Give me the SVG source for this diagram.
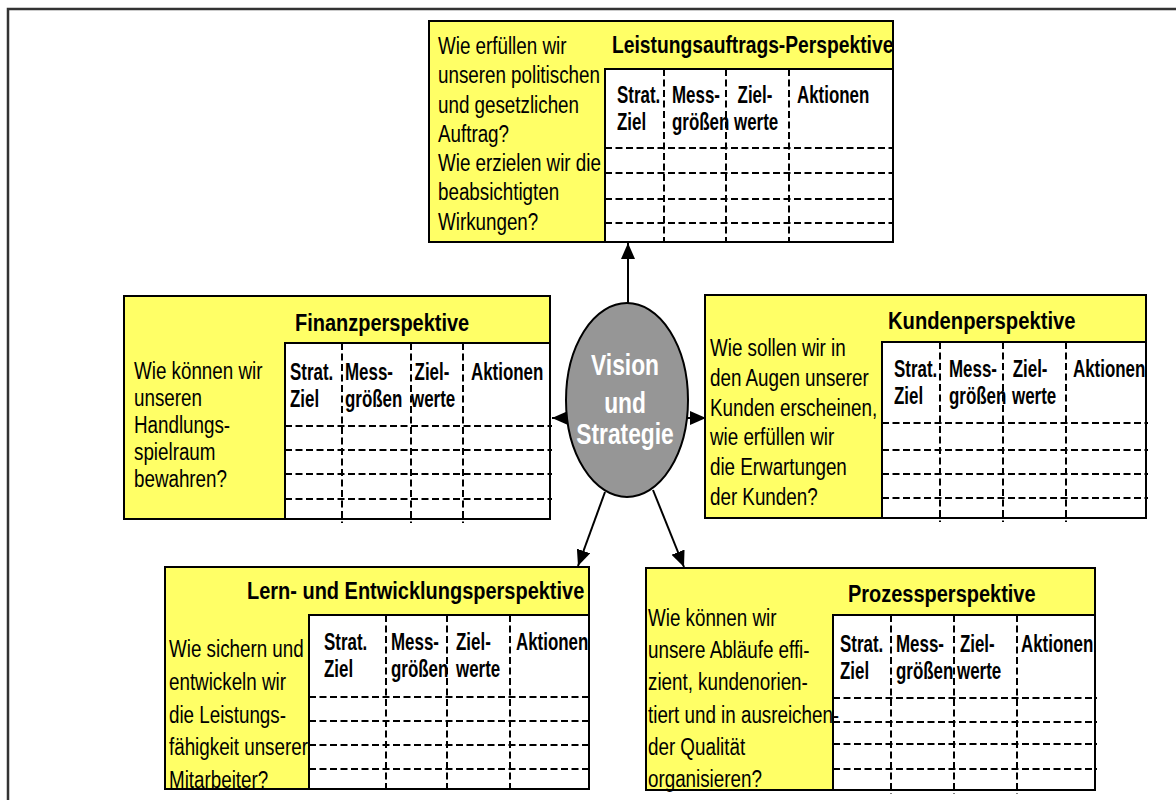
<svg xmlns="http://www.w3.org/2000/svg" width="1176" height="800" viewBox="0 0 1176 800">
  <style>
    .box { fill: #ffff66; stroke: #000; stroke-width: 2; }
    .tbl { fill: #fff; stroke: #000; stroke-width: 2; }
    .dash { stroke: #000; stroke-width: 2; stroke-dasharray: 7 3.5; fill: none; }
    .body { font-family: "Liberation Sans", Arial, sans-serif; font-size: 23.5px; fill: #000; }
    .title { font-family: "Liberation Sans", Arial, sans-serif; font-size: 23.5px; font-weight: bold; fill: #000; }
    .head { font-family: "Liberation Sans", Arial, sans-serif; font-size: 23.5px; font-weight: bold; fill: #000; }
    .vis { font-family: "Liberation Sans", Arial, sans-serif; font-size: 30px; font-weight: bold; fill: #fff; text-anchor: middle; }
    .conn { stroke: #000; stroke-width: 2; fill: none; marker-end: url(#arrow); }
  </style>
  <defs>
    <marker id="arrow" viewBox="0 0 16 14" refX="16" refY="7" markerWidth="16" markerHeight="14" markerUnits="userSpaceOnUse" orient="auto">
      <path d="M0,0 L16,7 L0,14 z" fill="#000"/>
    </marker>
  </defs>

  <rect width="1176" height="800" fill="#fff"/>
  <!-- page frame -->
  <path d="M8,800 L8,9 L1176,9" fill="none" stroke="#333" stroke-width="2.5"/>

  <!-- connectors from the centre -->
  <g id="connectors">
    <path class="conn" d="M628,303 L628,243"/>
    <path class="conn" d="M568,418 L552,418"/>
    <path class="conn" d="M686,418 L706,418"/>
    <path class="conn" d="M605,492 L578,566"/>
    <path class="conn" d="M653,490 L684,567"/>
  </g>

  <!-- Leistungsauftrag -->
  <g id="leistungsauftrag">
    <rect class="box" x="429" y="21" width="464" height="221"/>
    <rect class="tbl" x="605" y="69" width="288" height="173"/>
    <path class="dash" d="M664,69 V242 M726,69 V242 M789,69 V242 M605,148 H893 M605,173 H893 M605,199 H893 M605,223 H893"/>
    <text class="title" transform="translate(612,53) scale(0.82,1)">Leistungsauftrags-Perspektive</text>
    <text class="head" transform="translate(617,103) scale(0.72,1)"><tspan x="0" y="0">Strat.</tspan><tspan x="0" y="27">Ziel</tspan></text>
    <text class="head" transform="translate(672,103) scale(0.72,1)"><tspan x="0" y="0">Mess-</tspan><tspan x="0" y="27">größen</tspan></text>
    <text class="head" transform="translate(734,103) scale(0.72,1)"><tspan x="5" y="0">Ziel-</tspan><tspan x="0" y="27">werte</tspan></text>
    <text class="head" transform="translate(797,103) scale(0.72,1)">Aktionen</text>
    <text class="body" transform="translate(438,54) scale(0.80,1)">
      <tspan x="0" y="0">Wie erfüllen wir</tspan>
      <tspan x="0" y="29.3">unseren politischen</tspan>
      <tspan x="0" y="58.6">und gesetzlichen</tspan>
      <tspan x="0" y="87.9">Auftrag?</tspan>
      <tspan x="0" y="117.2">Wie erzielen wir die</tspan>
      <tspan x="0" y="146.5">beabsichtigten</tspan>
      <tspan x="0" y="175.8">Wirkungen?</tspan>
    </text>
  </g>

  <!-- Finanzen -->
  <g id="finanz">
    <rect class="box" x="124" y="296" width="426" height="223"/>
    <rect class="tbl" x="285" y="343" width="265" height="176"/>
    <path class="dash" d="M342,343 V523 M411,343 V523 M463,343 V523 M285,426 H552 M285,450 H552 M285,474 H552 M285,499 H552"/>
    <text class="title" transform="translate(295,331) scale(0.85,1)">Finanzperspektive</text>
    <text class="head" transform="translate(290,380) scale(0.72,1)"><tspan x="0" y="0">Strat.</tspan><tspan x="0" y="27">Ziel</tspan></text>
    <text class="head" transform="translate(345,380) scale(0.72,1)"><tspan x="0" y="0">Mess-</tspan><tspan x="0" y="27">größen</tspan></text>
    <text class="head" transform="translate(411,380) scale(0.72,1)"><tspan x="5" y="0">Ziel-</tspan><tspan x="0" y="27">werte</tspan></text>
    <text class="head" transform="translate(471,380) scale(0.72,1)">Aktionen</text>
    <text class="body" transform="translate(134,379) scale(0.80,1)">
      <tspan x="0" y="0">Wie können wir</tspan>
      <tspan x="0" y="27">unseren</tspan>
      <tspan x="0" y="54">Handlungs-</tspan>
      <tspan x="0" y="81">spielraum</tspan>
      <tspan x="0" y="108">bewahren?</tspan>
    </text>
  </g>

  <!-- Kunden -->
  <g id="kunden">
    <rect class="box" x="705" y="295" width="441" height="223"/>
    <rect class="tbl" x="882" y="342" width="264" height="176"/>
    <path class="dash" d="M940,342 V522 M1003,342 V522 M1066,342 V522 M882,423 H1148 M882,450 H1148 M882,474 H1148 M882,498 H1148"/>
    <text class="title" transform="translate(888,329) scale(0.86,1)">Kundenperspektive</text>
    <text class="head" transform="translate(894,377) scale(0.72,1)"><tspan x="0" y="0">Strat.</tspan><tspan x="0" y="27">Ziel</tspan></text>
    <text class="head" transform="translate(949,377) scale(0.72,1)"><tspan x="0" y="0">Mess-</tspan><tspan x="0" y="27">größen</tspan></text>
    <text class="head" transform="translate(1012,377) scale(0.72,1)"><tspan x="1" y="0">Ziel-</tspan><tspan x="0" y="27">werte</tspan></text>
    <text class="head" transform="translate(1073,377) scale(0.72,1)">Aktionen</text>
    <text class="body" transform="translate(710,356) scale(0.80,1)">
      <tspan x="0" y="0">Wie sollen wir in</tspan>
      <tspan x="0" y="29.8">den Augen unserer</tspan>
      <tspan x="0" y="59.6">Kunden erscheinen,</tspan>
      <tspan x="0" y="89.4">wie erfüllen wir</tspan>
      <tspan x="0" y="119.2">die Erwartungen</tspan>
      <tspan x="0" y="149">der Kunden?</tspan>
    </text>
  </g>

  <!-- Lernen und Entwicklung -->
  <g id="lernen">
    <rect class="box" x="165" y="567" width="424" height="222"/>
    <rect class="tbl" x="309" y="615" width="280" height="174"/>
    <path class="dash" d="M386,615 V793 M447,615 V793 M510,615 V793 M309,697 H591 M309,721 H591 M309,745 H591 M309,769 H591"/>
    <text class="title" transform="translate(247,599) scale(0.85,1)">Lern- und Entwicklungsperspektive</text>
    <text class="head" transform="translate(324,650) scale(0.72,1)"><tspan x="0" y="0">Strat.</tspan><tspan x="0" y="27">Ziel</tspan></text>
    <text class="head" transform="translate(391,650) scale(0.72,1)"><tspan x="0" y="0">Mess-</tspan><tspan x="0" y="27">größen</tspan></text>
    <text class="head" transform="translate(456,650) scale(0.72,1)"><tspan x="0" y="0">Ziel-</tspan><tspan x="0" y="27">werte</tspan></text>
    <text class="head" transform="translate(516,650) scale(0.72,1)">Aktionen</text>
    <text class="body" transform="translate(169,657) scale(0.80,1)">
      <tspan x="0" y="0">Wie sichern und</tspan>
      <tspan x="0" y="32.8">entwickeln wir</tspan>
      <tspan x="0" y="65.6">die Leistungs-</tspan>
      <tspan x="0" y="98.4">fähigkeit unserer</tspan>
      <tspan x="0" y="131.2">Mitarbeiter?</tspan>
    </text>
  </g>

  <!-- Prozesse -->
  <g id="prozess">
    <rect class="box" x="646" y="568" width="449" height="222"/>
    <rect class="tbl" x="833" y="615" width="262" height="175"/>
    <path class="dash" d="M891,615 V794 M954,615 V794 M1017,615 V794 M833,698 H1097 M833,722 H1097 M833,744 H1097 M833,769 H1097"/>
    <text class="title" transform="translate(848,602) scale(0.85,1)">Prozessperspektive</text>
    <text class="head" transform="translate(840,652) scale(0.72,1)"><tspan x="0" y="0">Strat.</tspan><tspan x="0" y="27">Ziel</tspan></text>
    <text class="head" transform="translate(896,652) scale(0.72,1)"><tspan x="0" y="0">Mess-</tspan><tspan x="0" y="27">größen</tspan></text>
    <text class="head" transform="translate(957,652) scale(0.72,1)"><tspan x="4" y="0">Ziel-</tspan><tspan x="0" y="27">werte</tspan></text>
    <text class="head" transform="translate(1021,652) scale(0.72,1)">Aktionen</text>
    <text class="body" transform="translate(648,626) scale(0.80,1)">
      <tspan x="0" y="0">Wie können wir</tspan>
      <tspan x="0" y="32.2">unsere Abläufe effi-</tspan>
      <tspan x="0" y="64.4">zient, kundenorien-</tspan>
      <tspan x="0" y="96.6">tiert und in ausreichen-</tspan>
      <tspan x="0" y="128.8">der Qualität</tspan>
      <tspan x="0" y="161">organisieren?</tspan>
    </text>
  </g>

  <!-- Vision und Strategie -->
  <g id="vision">
    <ellipse cx="627" cy="400" rx="61" ry="97" fill="#969696" stroke="#000" stroke-width="2"/>
    <text class="vis" transform="translate(625,375) scale(0.76,1)"><tspan x="0" y="0">Vision</tspan><tspan x="0" y="38">und</tspan><tspan x="0" y="69">Strategie</tspan></text>
  </g>
</svg>
